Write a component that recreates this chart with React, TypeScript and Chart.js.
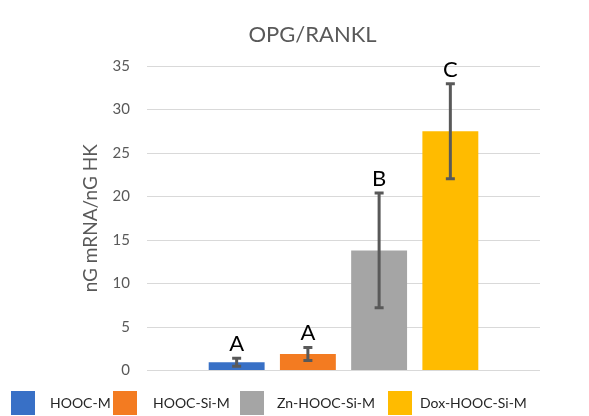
import React, { useEffect, useRef } from "react";
import { Chart, registerables } from "chart.js";

Chart.register(...registerables);

const CATEGORY = ["OPG/RANKL"];
const SERIES = ["HOOC-M", "HOOC-Si-M", "Zn-HOOC-Si-M", "Dox-HOOC-Si-M"];
const VALUES = [0.95, 1.9, 13.8, 27.5];
const ERRORS = [0.47, 0.75, 6.6, 5.45];
const LETTERS = ["A", "A", "B", "C"];
const COLORS = ["#3870C6", "#F37B21", "#A5A5A5", "#FFBB00"];
const Y_TICKS = [0, 5, 10, 15, 20, 25, 30, 35];

const TITLE = "OPG/RANKL";
const Y_TITLE = "nG mRNA/nG HK";

const LEGEND_BOX_X = [11, 113, 240, 388];
const LEGEND_TEXT_X = [50, 153, 277, 420];

const FONT = "Lato, 'Open Sans', sans-serif";

const overlayPlugin = {
  id: "overlay",
  afterDatasetsDraw(chart: any) {
    const ctx = chart.ctx;
    const y = chart.scales.y;
    chart.data.datasets.forEach((_ds: any, i: number) => {
      const meta = chart.getDatasetMeta(i);
      const bar = meta.data[0];
      if (!bar) return;
      const x = bar.x;
      const v = VALUES[i];
      const e = ERRORS[i];
      const yTop = y.getPixelForValue(v + e);
      const yBot = y.getPixelForValue(v - e);
      ctx.save();
      ctx.strokeStyle = "#595959";
      ctx.lineWidth = 3;
      ctx.beginPath();
      ctx.moveTo(x, yTop);
      ctx.lineTo(x, yBot);
      ctx.moveTo(x - 4.5, yTop);
      ctx.lineTo(x + 4.5, yTop);
      ctx.moveTo(x - 4.5, yBot);
      ctx.lineTo(x + 4.5, yBot);
      ctx.stroke();
      ctx.fillStyle = "#000000";
      ctx.font = `22px ${FONT}`;
      ctx.textAlign = "center";
      ctx.textBaseline = "alphabetic";
      ctx.fillText(LETTERS[i], x, yTop - 7);
      ctx.restore();
    });
  },
  afterDraw(chart: any) {
    const ctx = chart.ctx;
    ctx.save();
    // title
    ctx.fillStyle = "#595959";
    ctx.font = `22px ${FONT}`;
    ctx.textAlign = "center";
    ctx.textBaseline = "middle";
    ctx.fillText(TITLE, 312.5, 35);
    // legend
    ctx.font = `14px ${FONT}`;
    ctx.textAlign = "left";
    ctx.textBaseline = "middle";
    chart.data.datasets.forEach((ds: any, i: number) => {
      ctx.fillStyle = ds.backgroundColor;
      ctx.fillRect(LEGEND_BOX_X[i], 391, 24, 24);
      ctx.fillStyle = "#262626";
      ctx.fillText(ds.label, LEGEND_TEXT_X[i], 403);
    });
    ctx.restore();
  },
};

export default function App() {
  const canvasRef = useRef<HTMLCanvasElement | null>(null);

  useEffect(() => {
    document.body.style.margin = "0";
    const canvas = canvasRef.current;
    if (!canvas) return;
    const chart = new Chart(canvas, {
      type: "bar",
      data: {
        labels: CATEGORY,
        datasets: SERIES.map((name, i) => ({
          label: name,
          data: [VALUES[i]],
          backgroundColor: COLORS[i],
          borderWidth: 0,
          categoryPercentage: 0.725,
          barPercentage: 0.785,
        })),
      },
      options: {
        responsive: false,
        animation: false,
        layout: { padding: { top: 66, bottom: 45.5, left: 0, right: 49 } },
        plugins: {
          legend: { display: false },
          title: { display: false },
          tooltip: { enabled: false },
        },
        scales: {
          x: { display: false },
          y: {
            min: 0,
            max: 35,
            afterBuildTicks(scale: any) {
              scale.ticks = Y_TICKS.map((v) => ({ value: v }));
            },
            afterFit(scale: any) {
              scale.width = 147;
            },
            border: { display: false },
            grid: { color: "#d9d9d9", lineWidth: 1, drawTicks: false },
            ticks: {
              color: "#595959",
              font: { family: FONT, size: 15 },
              padding: 17,
            },
            title: {
              display: true,
              text: Y_TITLE,
              color: "#595959",
              font: { family: FONT, size: 19 },
              padding: { top: 79, bottom: 0 },
            },
          },
        },
      },
      plugins: [overlayPlugin],
    });
    return () => chart.destroy();
  }, []);

  return (
    <div style={{ width: 589, height: 416 }}>
      <canvas ref={canvasRef} width={589} height={416} style={{ display: "block" }} />
    </div>
  );
}
